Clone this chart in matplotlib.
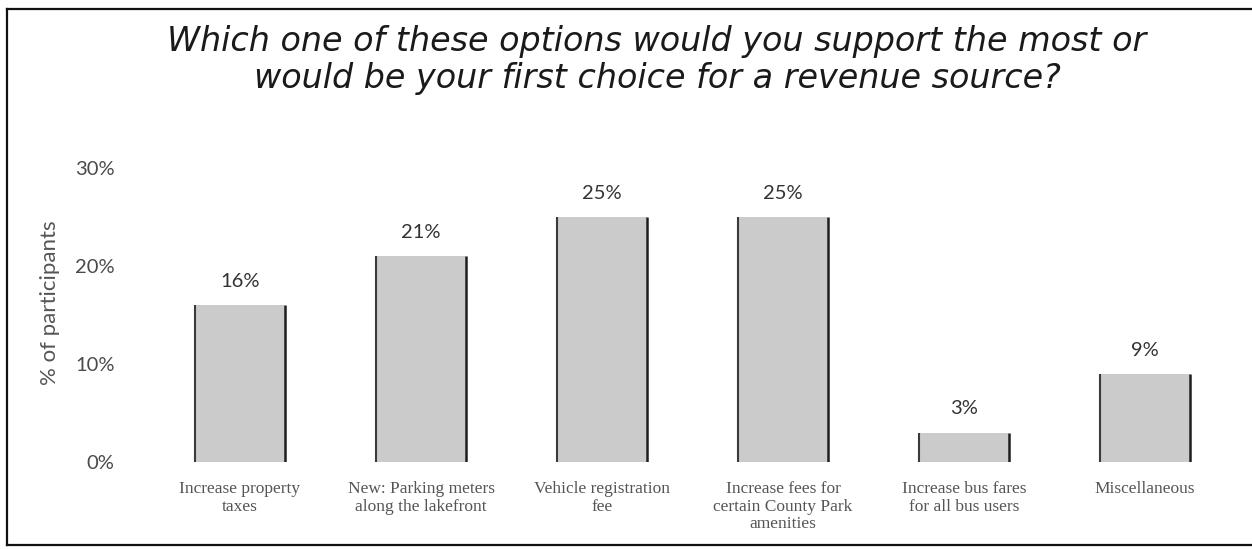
import matplotlib
matplotlib.use("Agg")
import matplotlib.pyplot as plt
from matplotlib.lines import Line2D

title = "Which one of these options would you support the most or\nwould be your first choice for a revenue source?"
categories = [
    "Increase property\ntaxes",
    "New: Parking meters\nalong the lakefront",
    "Vehicle registration\nfee",
    "Increase fees for\ncertain County Park\namenities",
    "Increase bus fares\nfor all bus users",
    "Miscellaneous",
]
values = [16, 21, 25, 25, 3, 9]
value_labels = ["16%", "21%", "25%", "25%", "3%", "9%"]
yticks = [0, 10, 20, 30]
ytick_labels = ["0%", "10%", "20%", "30%"]
ylabel = "% of participants"

W, H = 1252, 549
fig = plt.figure(figsize=(W / 100, H / 100), dpi=100)
fig.patch.set_facecolor("white")

# axes placement in pixels
ax_left, ax_right = 130, 1232
y0_px, y30_px = 462, 168
ax = fig.add_axes([ax_left / W, (H - y0_px) / H, (ax_right - ax_left) / W, (y0_px - y30_px) / H])
ax.set_ylim(0, 30)
spacing = 181.0
c0 = 240.0
ax.set_xlim(0 - (c0 - ax_left) / spacing, 5 + (ax_right - (c0 + 5 * spacing)) / spacing)
ax.set_facecolor("none")
for s in ax.spines.values():
    s.set_visible(False)

xs = list(range(len(values)))
bw = 0.5
ax.bar(xs, values, width=bw, color="#cbcbcb", edgecolor="none", zorder=2)
ax.vlines([x - bw / 2 for x in xs], 0, values, color="#3a3a3a", lw=1.5, zorder=3)
ax.vlines([x + bw / 2 for x in xs], 0, values, color="#1e1e1e", lw=1.8, zorder=3)

for x, v, lab in zip(xs, values, value_labels):
    ax.annotate(lab, (x, v), xytext=(0, 11), textcoords="offset points",
                ha="center", va="bottom", fontsize=14.5, color="#333333",
                family="Lato")

ax.set_yticks(yticks)
ax.set_yticklabels(ytick_labels, fontsize=14.5, color="#4a4a4a", family="Lato")
ax.tick_params(axis="y", length=0, pad=11)
ax.set_xticks(xs)
ax.set_xticklabels(categories, fontsize=12.5, color="#555555", family="Liberation Serif",
                   linespacing=1.1, va="top")
ax.tick_params(axis="x", length=0, pad=14)

fig.text(50 / W, 1 - 303 / H, ylabel, rotation=90, ha="center", va="center",
         fontsize=16, color="#555555", family="Lato")

fig.text(657 / W, 1 - 60 / H, title, ha="center", va="center", fontsize=24,
         style="italic", family="DejaVu Sans", color="#1a1a1a", linespacing=1.15)

# frame lines
kw = dict(color="#111111", lw=1.6, transform=fig.transFigure)
fig.add_artist(Line2D([7 / W, 7 / W], [1 - 545 / H, 1 - 9 / H], **kw))
fig.add_artist(Line2D([7 / W, 1.0], [1 - 9 / H, 1 - 9 / H], **kw))
fig.add_artist(Line2D([7 / W, 1.0], [1 - 545 / H, 1 - 545 / H], **kw))

fig.savefig("out.png", dpi=100)
